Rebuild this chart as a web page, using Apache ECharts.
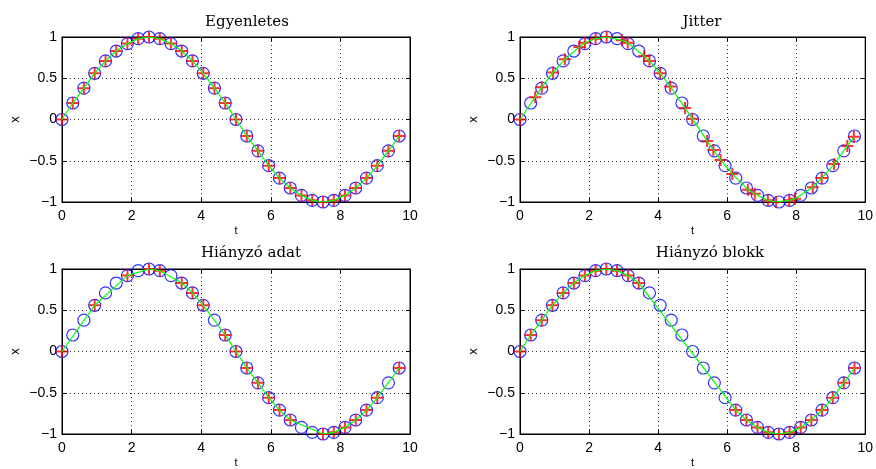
<!DOCTYPE html>
<html>
<head>
<meta charset="utf-8">
<script src="https://cdn.jsdelivr.net/npm/echarts@6/dist/echarts.min.js"></script>
<style>
html,body{margin:0;padding:0;background:#fff;}
#main{width:876px;height:469px;}
</style>
</head>
<body>
<div id="main"></div>
<script>
// Uniform sample times and values (circles, all panels)
const tUniform = [0,0.31,0.63,0.94,1.25,1.56,1.88,2.19,2.5,2.81,3.13,3.44,3.75,4.06,4.38,4.69,5,5.31,5.63,5.94,6.25,6.56,6.88,7.19,7.5,7.81,8.13,8.44,8.75,9.06,9.38,9.69];
const xUniform = [0,0.2,0.38,0.56,0.71,0.83,0.92,0.98,1,0.98,0.92,0.83,0.71,0.56,0.38,0.2,0,-0.2,-0.38,-0.56,-0.71,-0.83,-0.92,-0.98,-1,-0.98,-0.92,-0.83,-0.71,-0.56,-0.38,-0.2];

// Jittered samples
const tJitter = [0,0.44,0.63,0.96,1.3,1.72,1.88,2.19,2.51,2.95,3.12,3.6,3.75,4.06,4.35,4.78,4.99,5.42,5.6,5.81,6.15,6.6,6.8,7.18,7.42,7.8,7.97,8.48,8.74,9.1,9.48,9.67];
const xJitter = [0,0.27,0.39,0.57,0.73,0.88,0.93,0.98,1,0.96,0.93,0.77,0.71,0.56,0.4,0.14,0.01,-0.26,-0.37,-0.49,-0.66,-0.85,-0.9,-0.98,-1,-0.98,-0.96,-0.82,-0.71,-0.54,-0.32,-0.21];

// Missing samples
const tMissing = [0,0.94,1.88,2.5,2.81,3.44,3.75,4.06,4.69,5,5.31,5.63,5.94,6.25,6.56,7.5,7.81,8.13,8.44,8.75,9.06,9.69];
const xMissing = [0,0.56,0.92,1,0.98,0.83,0.71,0.56,0.2,0,-0.2,-0.38,-0.56,-0.71,-0.83,-1,-0.98,-0.92,-0.83,-0.71,-0.56,-0.2];

// Missing block
const tBlock = [0,0.31,0.63,0.94,1.25,1.56,1.88,2.19,2.5,2.81,3.13,3.44,6.25,6.56,6.88,7.19,7.5,7.81,8.13,8.44,8.75,9.06,9.38,9.69];
const xBlock = [0,0.2,0.38,0.56,0.71,0.83,0.92,0.98,1,0.98,0.92,0.83,-0.71,-0.83,-0.92,-0.98,-1,-0.98,-0.92,-0.83,-0.71,-0.56,-0.38,-0.2];

const titles = ['Egyenletes','Jitter','Hiányzó adat','Hiányzó blokk'];
const xTicks = [0,2,4,6,8,10];
const yTicks = [-1,-0.5,0,0.5,1];
const xName = 't';
const yName = 'x';

const panels = [
  {t: tUniform, x: xUniform},
  {t: tJitter, x: xJitter},
  {t: tMissing, x: xMissing},
  {t: tBlock, x: xBlock}
];

const grids = [
  {left: 62, top: 37, width: 348, height: 165},
  {left: 520, top: 37, width: 348, height: 165},
  {left: 62, top: 269, width: 348, height: 165},
  {left: 520, top: 269, width: 348, height: 165}
];
const titlePos = [[247, 22], [702, 22], [251, 253], [710, 253]];

const sansFont = 'Liberation Sans, Arial, sans-serif';
const fmt = v => String(v).replace('-', '\u2212');

const xAxes = [], yAxes = [], series = [], graphics = [];
const tickCommon = {show: true, inside: true, length: 4, lineStyle: {color: '#000', width: 1}};

grids.forEach((g, i) => {
  xAxes.push({
    type: 'value', gridIndex: i, position: 'bottom',
    min: xTicks[0], max: xTicks[xTicks.length - 1], interval: xTicks[1] - xTicks[0],
    name: xName, nameLocation: 'middle', nameGap: 23,
    nameTextStyle: {fontFamily: sansFont, fontSize: 11, color: '#000'},
    axisLine: {show: true, onZero: false, lineStyle: {color: '#000', width: 1}},
    axisTick: tickCommon,
    axisLabel: {fontFamily: sansFont, fontSize: 14, color: '#000', margin: 7, formatter: fmt},
    splitLine: {show: true, lineStyle: {color: '#333', width: 1, type: [1, 3]}}
  });
  xAxes.push({
    type: 'value', gridIndex: i, position: 'top',
    min: xTicks[0], max: xTicks[xTicks.length - 1], interval: xTicks[1] - xTicks[0],
    axisLine: {show: true, onZero: false, lineStyle: {color: '#000', width: 1}},
    axisTick: tickCommon, axisLabel: {show: false}, splitLine: {show: false}
  });
  yAxes.push({
    type: 'value', gridIndex: i, position: 'left',
    min: yTicks[0], max: yTicks[yTicks.length - 1], interval: yTicks[1] - yTicks[0],
    name: yName, nameLocation: 'middle', nameGap: 40, nameRotate: 90,
    nameTextStyle: {fontFamily: sansFont, fontSize: 13, color: '#000'},
    axisLine: {show: true, onZero: false, lineStyle: {color: '#000', width: 1}},
    axisTick: tickCommon,
    axisLabel: {fontFamily: sansFont, fontSize: 14, color: '#000', margin: 5, formatter: fmt},
    splitLine: {show: true, lineStyle: {color: '#333', width: 1, type: [1, 3]}}
  });
  yAxes.push({
    type: 'value', gridIndex: i, position: 'right',
    min: yTicks[0], max: yTicks[yTicks.length - 1], interval: yTicks[1] - yTicks[0],
    axisLine: {show: true, onZero: false, lineStyle: {color: '#000', width: 1}},
    axisTick: tickCommon, axisLabel: {show: false}, splitLine: {show: false}
  });

  const p = panels[i];
  const sampleData = p.t.map((t, k) => [t, p.x[k]]);
  const circleData = tUniform.map((t, k) => [t, xUniform[k]]);

  series.push({
    type: 'line', xAxisIndex: 2 * i, yAxisIndex: 2 * i,
    data: sampleData, showSymbol: false, silent: true,
    lineStyle: {color: '#00ff00', width: 1.2}
  });
  series.push({
    type: 'scatter', xAxisIndex: 2 * i, yAxisIndex: 2 * i,
    data: circleData, symbol: 'circle', symbolSize: 12, silent: true,
    itemStyle: {color: 'rgba(0,0,0,0)', borderColor: '#0000ff', borderWidth: 1.2}
  });
  series.push({
    type: 'scatter', xAxisIndex: 2 * i, yAxisIndex: 2 * i,
    data: sampleData, symbol: 'path://M0,-6L0,6M-6,0L6,0', symbolSize: 12, silent: true,
    itemStyle: {color: 'rgba(0,0,0,0)', borderColor: '#ff0000', borderWidth: 2}
  });

  graphics.push({
    type: 'text', x: titlePos[i][0], y: titlePos[i][1],
    style: {text: titles[i], textAlign: 'center', textVerticalAlign: 'middle',
      font: '15px "DejaVu Serif", "Liberation Serif", serif', fill: '#000'}
  });
});

const chart = echarts.init(document.getElementById('main'), null, {renderer: 'canvas'});
chart.setOption({
  animation: false,
  backgroundColor: '#fff',
  grid: grids.map(g => Object.assign({show: true, borderColor: '#000', borderWidth: 1, backgroundColor: 'transparent'}, g)),
  xAxis: xAxes,
  yAxis: yAxes,
  series: series,
  graphic: graphics
});
</script>
</body>
</html>
